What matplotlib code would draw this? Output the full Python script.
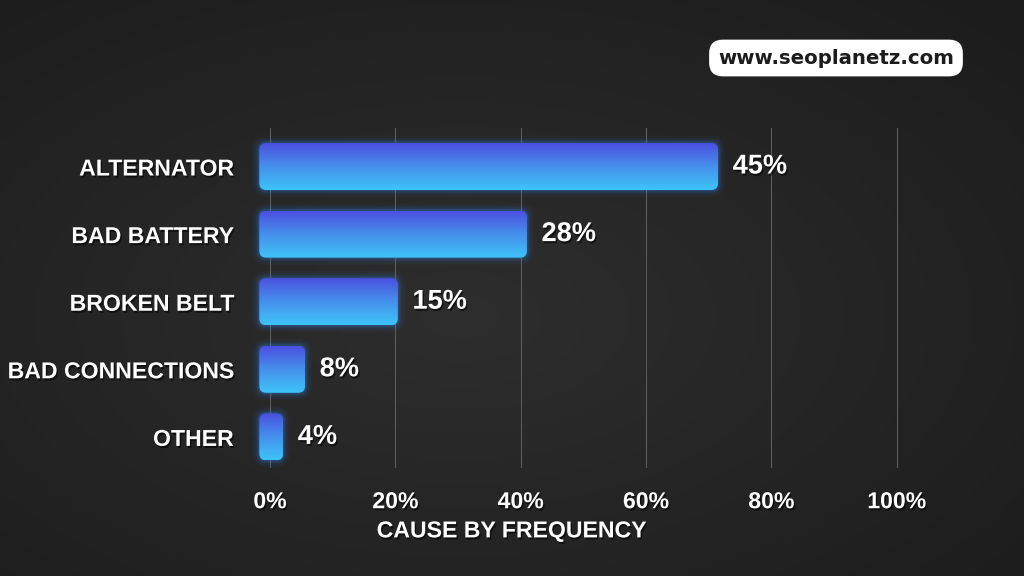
import numpy as np
import matplotlib
matplotlib.use("Agg")
import matplotlib.pyplot as plt
import matplotlib.patheffects as pe
from matplotlib.patches import FancyBboxPatch
from matplotlib.colors import LinearSegmentedColormap

# data (bar ends; labels as printed)
causes = ["ALTERNATOR", "BAD BATTERY", "BROKEN BELT", "BAD CONNECTIONS", "OTHER"]
value_labels = ["45%", "28%", "15%", "8%", "4%"]
bar_ends = [71.5, 41.0, 20.4, 5.6, 2.1]
ticks = [0, 20, 40, 60, 80, 100]
tick_labels = ["0%", "20%", "40%", "60%", "80%", "100%"]

W, H = 1024, 576
FONT = ["Liberation Sans", "DejaVu Sans"]
shadow = [pe.withSimplePatchShadow(offset=(1, -1.5), shadow_rgbFace="black", alpha=0.55)]

fig = plt.figure(figsize=(W / 100, H / 100), dpi=100)

# background: dark gray with soft vignette
bg = fig.add_axes([0, 0, 1, 1])
yy, xx = np.mgrid[0:1:H * 1j, 0:1:W * 1j]
r = np.sqrt(((xx - 0.45) / 0.75) ** 2 + ((yy - 0.55) / 0.75) ** 2)
shade = np.clip(0.18 - 0.07 * r, 0.09, 0.2)
bg.imshow(np.dstack([shade] * 3), extent=(0, 1, 0, 1), aspect="auto")
bg.axis("off")

# main axes
xmin, xmax = -3, 103
ytop, ybot = -0.57, 4.46
left, right = 251.2 / W, 915.5 / W
bottom, top = 1 - 468 / H, 1 - 128 / H
ax = fig.add_axes([left, bottom, right - left, top - bottom])
ax.patch.set_visible(False)
ax.set_xlim(xmin, xmax)
ax.set_ylim(ybot, ytop)

px_x = (right - left) * W / (xmax - xmin)
px_y = (top - bottom) * H / (ybot - ytop)
aspect = px_x / px_y

bar_h = 0.695
overhang = 10.7 / px_x
cmap = LinearSegmentedColormap.from_list("bar", ["#4b50e0", "#4690ec", "#3ec4f8"])
grad = np.linspace(0, 1, 200).reshape(-1, 1)

for i, v in enumerate(bar_ends):
    x0 = -overhang
    w = v + overhang
    y0 = i - bar_h / 2
    # glow
    for k, a in [(7, 0.04), (5, 0.06), (3, 0.1), (1.5, 0.18)]:
        g = FancyBboxPatch((x0, y0), w, bar_h,
                           boxstyle=f"round,pad={k / px_x},rounding_size={(7 + k) / px_x}",
                           mutation_aspect=aspect, fc="#2f8cff", ec="none", alpha=a, zorder=2)
        ax.add_patch(g)
    body = FancyBboxPatch((x0, y0), w, bar_h,
                          boxstyle=f"round,pad=0,rounding_size={7 / px_x}",
                          mutation_aspect=aspect, fc="none", ec="none", zorder=3)
    ax.add_patch(body)
    im = ax.imshow(grad, cmap=cmap, extent=(x0, x0 + w, y0 + bar_h, y0),
                   aspect="auto", zorder=3, interpolation="bilinear")
    im.set_clip_path(body)
    ax.annotate(value_labels[i], xy=(v, i), xytext=(10.5, 0), textcoords="offset points",
                va="center", ha="left", fontsize=19.6, fontweight="bold", color="white",
                family=FONT, path_effects=shadow, zorder=5)

ax.set_xlim(xmin, xmax)
ax.set_ylim(ybot, ytop)

ax.set_xticks(ticks, tick_labels)
ax.set_yticks(range(len(causes)), causes)
ax.grid(axis="x", color="#5c5c5c", lw=0.8)
ax.set_axisbelow(True)
ax.tick_params(length=0, colors="white")
ax.tick_params(axis="y", pad=13)
ax.tick_params(axis="x", pad=16)
for lab in ax.get_xticklabels() + ax.get_yticklabels():
    lab.set_fontsize(16.6)
    lab.set_fontweight("bold")
    lab.set_family(FONT)
    lab.set_path_effects(shadow)
for s in ax.spines.values():
    s.set_visible(False)

ax.set_xlabel("CAUSE BY FREQUENCY", fontsize=16.6, fontweight="bold", color="white",
              family=FONT, path_effects=shadow)
ax.xaxis.set_label_coords((511 - 251.2) / 664.3, -0.185)
ax.xaxis.label.set_va("center")

# watermark
fig.text(836 / W, 1 - 58 / H, "www.seoplanetz.com", ha="center", va="center",
         fontsize=14.2, fontweight="bold", color="#1c1c1c", family=["DejaVu Sans"],
         bbox=dict(boxstyle="round,pad=0.45,rounding_size=0.7", fc="white", ec="none"))

fig.savefig("out.png", dpi=100)
